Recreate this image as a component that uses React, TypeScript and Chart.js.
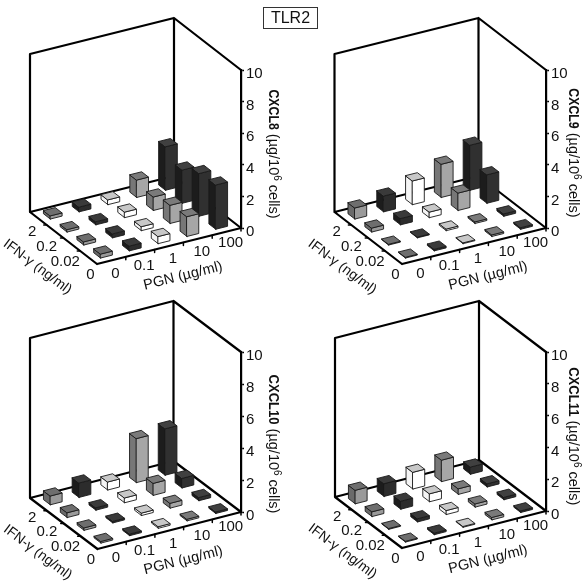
import React, { useEffect, useRef } from "react";
import { Chart, registerables } from "chart.js";

Chart.register(...registerables);

const pgnLabels = ["0", "0.1", "1", "10", "100"];
const ifnLabels = ["0", "0.02", "0.2", "2"];
const valueTicks = [0, 2, 4, 6, 8, 10];

// rows: IFN 0, 0.02, 0.2, 2; columns: PGN 0, 0.1, 1, 10, 100
const cxcl8 = [
  [0.25, 0.3, 0.45, 1.25, 2.8],
  [0.2, 0.25, 0.25, 1.15, 2.7],
  [0.15, 0.2, 0.35, 0.85, 2.1],
  [0.2, 0.3, 0.3, 1.1, 2.75],
];
const cxcl9 = [
  [0.05, 0.1, 0.05, 0.1, 0.1],
  [0.05, 0.05, 0.1, 0.1, 0.15],
  [0.25, 0.4, 0.35, 1.1, 1.8],
  [0.7, 1.0, 1.5, 2.1, 2.85],
];
const cxcl10 = [
  [0.1, 0.1, 0.1, 0.1, 0.1],
  [0.15, 0.1, 0.15, 0.3, 0.2],
  [0.3, 0.15, 0.3, 0.75, 0.6],
  [0.55, 0.9, 0.5, 2.75, 2.9],
];
const cxcl11 = [
  [0.05, 0.1, 0.05, 0.15, 0.1],
  [0.05, 0.2, 0.25, 0.2, 0.15],
  [0.3, 0.5, 0.5, 0.35, 0.2],
  [0.85, 0.8, 1.05, 1.35, 0.45],
];

const FONT = '"Liberation Sans", Arial, sans-serif';

const faceColors = [
  { top: "#6e6e6e", left: "#6a6a6a", right: "#9a9a9a" },
  { top: "#3a3a3a", left: "#1c1c1c", right: "#2c2c2c" },
  { top: "#c8c8c8", left: "#f4f4f4", right: "#ffffff" },
  { top: "#7a7a7a", left: "#777777", right: "#a6a6a6" },
  { top: "#404040", left: "#1c1c1c", right: "#303030" },
];

type Panel = {
  name: string;
  values: number[][];
  left: number;
  top: number;
  width: number;
  height: number;
  front: [number, number];
  right: [number, number];
  leftCorner: [number, number];
  topY: number;
  titleX: number;
  titleMid: number;
  nameScale: number;
};

const panels: Panel[] = [
  { name: "CXCL8", values: cxcl8, left: 0, top: 0, width: 290, height: 300, front: [97, 264], right: [241, 228], leftCorner: [30, 212], topY: 70, titleX: 273, titleMid: 4.68, nameScale: 0.82 },
  { name: "CXCL9", values: cxcl9, left: 305, top: 0, width: 278, height: 300, front: [97, 264], right: [241, 228], leftCorner: [29.5, 212], topY: 70, titleX: 268, titleMid: 4.75, nameScale: 0.82 },
  { name: "CXCL10", values: cxcl10, left: 0, top: 290, width: 290, height: 296, front: [97.5, 259], right: [241, 222], leftCorner: [30, 208], topY: 62, titleX: 273, titleMid: 4.25, nameScale: 0.87 },
  { name: "CXCL11", values: cxcl11, left: 305, top: 290, width: 278, height: 296, front: [97, 258], right: [241, 221], leftCorner: [30, 207], topY: 62, titleX: 268, titleMid: 4.7, nameScale: 0.87 },
];

function makePlugin(p: Panel) {
  const project = (chart: any, u: number, v: number, z: number): [number, number] => {
    const xs = chart.scales.x;
    const ys = chart.scales.y;
    const dy = p.front[1] - p.right[1];
    return [
      xs.getPixelForValue(u) + (v / ifnLabels.length) * (p.leftCorner[0] - p.front[0]),
      ys.getPixelForValue(z) + dy * (1 - u / pgnLabels.length) + (v / ifnLabels.length) * (p.leftCorner[1] - p.front[1]),
    ];
  };
  const poly = (ctx: CanvasRenderingContext2D, pts: [number, number][], fill: string) => {
    ctx.beginPath();
    pts.forEach((q, i) => (i ? ctx.lineTo(q[0], q[1]) : ctx.moveTo(q[0], q[1])));
    ctx.closePath();
    ctx.fillStyle = fill;
    ctx.fill();
    ctx.strokeStyle = "#1a1a1a";
    ctx.lineWidth = 0.9;
    ctx.lineJoin = "round";
    ctx.stroke();
  };
  const seg = (ctx: CanvasRenderingContext2D, a: [number, number], b: [number, number]) => {
    ctx.moveTo(a[0], a[1]);
    ctx.lineTo(b[0], b[1]);
  };
  return {
    id: "bars3d",
    beforeDatasetsDraw(chart: any) {
      const ctx: CanvasRenderingContext2D = chart.ctx;
      const U = pgnLabels.length;
      const V = ifnLabels.length;
      const P = (u: number, v: number, z: number) => project(chart, u, v, z);
      ctx.save();
      // box frame
      ctx.strokeStyle = "#000";
      ctx.lineWidth = 2.2;
      ctx.lineCap = "round";
      ctx.lineJoin = "round";
      ctx.beginPath();
      seg(ctx, P(0, 0, 0), P(U, 0, 0));
      seg(ctx, P(0, 0, 0), P(0, V, 0));
      seg(ctx, P(0, V, 0), P(U, V, 0));
      seg(ctx, P(U, V, 0), P(U, 0, 0));
      seg(ctx, P(0, V, 0), P(0, V, 10));
      seg(ctx, P(U, V, 0), P(U, V, 10));
      seg(ctx, P(0, V, 10), P(U, V, 10));
      seg(ctx, P(U, V, 10), P(U, 0, 10));
      ctx.stroke();
      // floor ticks
      ctx.lineWidth = 1.5;
      ctx.beginPath();
      for (let i = 1; i <= U; i++) {
        const q = P(i, 0, 0);
        seg(ctx, q, [q[0], q[1] + 3]);
      }
      for (let j = 1; j < V; j++) {
        const q = P(0, j, 0);
        seg(ctx, q, [q[0] - 3, q[1]]);
      }
      ctx.stroke();
      // bars, far to near
      const a = 0.205;
      const dsets = chart.data.datasets;
      for (let j = V - 1; j >= 0; j--) {
        for (let i = U - 1; i >= 0; i--) {
          const pt = dsets[j].data[i];
          const u = pt.x;
          const v = j + 0.5;
          const z = pt.y;
          const c = faceColors[i];
          poly(ctx, [P(u - a, v - a, 0), P(u - a, v + a, 0), P(u - a, v + a, z), P(u - a, v - a, z)], c.left);
          poly(ctx, [P(u - a, v - a, 0), P(u + a, v - a, 0), P(u + a, v - a, z), P(u - a, v - a, z)], c.right);
          poly(ctx, [P(u - a, v - a, z), P(u + a, v - a, z), P(u + a, v + a, z), P(u - a, v + a, z)], c.top);
        }
      }
      // labels
      ctx.fillStyle = "#111";
      ctx.font = `15px ${FONT}`;
      ctx.textBaseline = "middle";
      ctx.textAlign = "center";
      pgnLabels.forEach((t, i) => {
        const q = P(i + 0.5, 0, 0);
        ctx.fillText(t, q[0] + 4, q[1] + 13 - (i === 4 ? 2 : 0));
      });
      const ifnDx = [6, 8, 2, -2];
      const ifnDy = [17, 17, 15, 13];
      ctx.textAlign = "right";
      ifnLabels.forEach((t, j) => {
        const q = P(0, j + 0.5, 0);
        ctx.fillText(t, q[0] + ifnDx[j], q[1] + ifnDy[j]);
      });
      ctx.textAlign = "center";
      ctx.font = `14.5px ${FONT}`;
      const pgnC = P(U / 2, 0, 0);
      ctx.save();
      ctx.translate(pgnC[0] + 14, pgnC[1] + 30);
      ctx.rotate((-14 * Math.PI) / 180);
      ctx.fillText("PGN (µg/ml)", 0, 0);
      ctx.restore();
      ctx.font = `14px ${FONT}`;
      const ifnC = P(0, V / 2, 0);
      ctx.save();
      ctx.translate(ifnC[0] - 26, ifnC[1] + 29);
      ctx.rotate((37 * Math.PI) / 180);
      ctx.fillText("IFN-γ (ng/ml)", 0, 0);
      ctx.restore();
      // value axis title
      const parts: [string, string, number, number][] = [
        [p.name, `bold 15px ${FONT}`, 0, p.nameScale],
        [" (µg/10", `14.5px ${FONT}`, 0, 1],
        ["6", `10px ${FONT}`, 4, 1],
        [" cells)", `14.5px ${FONT}`, 0, 1],
      ];
      let total = 0;
      parts.forEach(([t, font, , sc]) => {
        ctx.font = font;
        total += ctx.measureText(t).width * sc;
      });
      const midY = chart.scales.y.getPixelForValue(p.titleMid);
      ctx.save();
      ctx.translate(p.titleX, midY);
      ctx.rotate(Math.PI / 2);
      ctx.textAlign = "left";
      let cx = -total / 2;
      parts.forEach(([t, font, raise, sc]) => {
        ctx.font = font;
        ctx.save();
        ctx.translate(cx, -raise);
        ctx.scale(sc, 1);
        ctx.fillText(t, 0, 0);
        ctx.restore();
        cx += ctx.measureText(t).width * sc;
      });
      ctx.restore();
      ctx.restore();
    },
  };
}

function Panel3D({ p }: { p: Panel }) {
  const ref = useRef<HTMLCanvasElement>(null);
  useEffect(() => {
    const axisW = 30;
    const chart = new Chart(ref.current!, {
      type: "line",
      data: {
        datasets: p.values.map((row, j) => ({
          label: `IFN-γ ${ifnLabels[j]}`,
          data: row.map((y, i) => ({ x: i + 0.5, y })),
          showLine: false,
          pointRadius: 0,
        })),
      },
      options: {
        animation: false,
        responsive: false,
        devicePixelRatio: 1,
        layout: {
          padding: {
            left: p.front[0],
            top: p.topY,
            right: p.width - p.right[0] - axisW,
            bottom: p.height - p.right[1],
          },
        },
        plugins: { legend: { display: false }, tooltip: { enabled: false } },
        scales: {
          x: { type: "linear", display: false, min: 0, max: pgnLabels.length },
          y: {
            type: "linear",
            position: "right",
            min: valueTicks[0],
            max: valueTicks[valueTicks.length - 1],
            afterFit: (s: any) => {
              s.width = axisW;
            },
            border: { display: true, color: "#000", width: 2.2 },
            grid: { drawOnChartArea: false, drawTicks: true, tickLength: 3, color: "#000", tickWidth: 1.5 },
            ticks: {
              stepSize: 2,
              color: "#111",
              padding: 2,
              font: { size: 15, family: FONT, lineHeight: "8px" },
              callback: (v: number) => ["", String(v)],
            },
          },
        },
      },
      plugins: [makePlugin(p)],
    } as any);
    return () => chart.destroy();
  }, [p]);
  return (
    <canvas
      ref={ref}
      width={p.width}
      height={p.height}
      style={{ position: "absolute", left: p.left, top: p.top, width: p.width, height: p.height, filter: "blur(0.35px)" }}
    />
  );
}

export default function App() {
  return (
    <div style={{ position: "absolute", left: 0, top: 0, width: 583, height: 586, background: "#fff", overflow: "hidden" }}>
      {panels.map((p) => (
        <Panel3D key={p.name} p={p} />
      ))}
      <div
        style={{
          position: "absolute",
          left: 263,
          top: 7,
          width: 53,
          height: 20,
          border: "1px solid #333",
          textAlign: "center",
          lineHeight: "20px",
          fontFamily: FONT,
          fontSize: 16,
          color: "#111",
          boxSizing: "content-box",
        }}
      >
        TLR2
      </div>
    </div>
  );
}
